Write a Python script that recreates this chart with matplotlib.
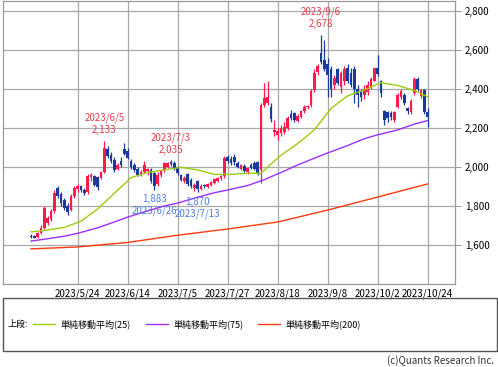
import numpy as np
import matplotlib
matplotlib.use("Agg")
import matplotlib.pyplot as plt
from matplotlib.lines import Line2D
from matplotlib.patches import Rectangle

plt.rcParams['font.family'] = ['Noto Sans CJK JP', 'DejaVu Sans']

# daily candles, 2023/5/1 .. 2023/10/24 (trading days only)
opens = [1648, 1645, 1640, 1662, 1685, 1712, 1735, 1775, 1890, 1860,
         1830, 1800, 1780, 1850, 1885, 1900, 1880, 1870, 1950, 1955,
         1950, 1945, 1974, 2090, 2060, 2035, 1990, 2030, 2090, 2080,
         2030, 2010, 1990, 1965, 1975, 1980, 1985, 1970, 1915, 1960,
         1985, 2000, 2025, 2020, 2000, 1960, 1930, 1965, 1935, 1890,
         1930, 1885, 1910, 1895, 1910, 1920, 1930, 1945, 1955, 2050,
         2040, 2050, 2020, 1990, 2005, 1975, 2010, 2020, 2025, 1985,
         2320, 2330, 2310, 2180, 2165, 2175, 2180, 2200, 2270, 2275,
         2235, 2255, 2285, 2305, 2320, 2395, 2485, 2585, 2550, 2530,
         2500, 2420, 2500, 2410, 2440, 2510, 2480, 2500, 2400, 2390,
         2370, 2385, 2410, 2440, 2510, 2440, 2285, 2280, 2275, 2240,
         2310, 2360, 2370, 2300, 2280, 2380, 2450, 2365, 2395, 2280]
highs = [1655, 1652, 1668, 1700, 1800, 1748, 1785, 1880, 1900, 1870,
         1840, 1815, 1860, 1900, 1915, 1910, 1890, 1965, 1970, 1960,
         1955, 1980, 2133, 2110, 2075, 2050, 2020, 2050, 2125, 2095,
         2040, 2020, 2000, 1985, 2030, 1995, 1995, 1975, 1975, 1985,
         2025, 2025, 2035, 2030, 2005, 1965, 1955, 1970, 1945, 1920,
         1935, 1915, 1915, 1920, 1930, 1945, 1950, 1960, 2055, 2060,
         2055, 2065, 2030, 2015, 2015, 2000, 2020, 2030, 2030, 2330,
         2430, 2440, 2330, 2240, 2200, 2215, 2230, 2260, 2290, 2280,
         2270, 2290, 2320, 2320, 2400, 2500, 2530, 2678, 2650, 2560,
         2520, 2470, 2510, 2490, 2520, 2530, 2510, 2520, 2420, 2400,
         2420, 2440, 2460, 2510, 2575, 2445, 2290, 2285, 2285, 2285,
         2380, 2400, 2380, 2310, 2350, 2460, 2460, 2400, 2400, 2300]
lows = [1636, 1634, 1636, 1655, 1680, 1700, 1725, 1765, 1840, 1800,
        1780, 1755, 1775, 1840, 1870, 1870, 1855, 1860, 1930, 1900,
        1880, 1940, 1970, 2045, 2020, 1975, 1985, 2000, 2060, 2040,
        1990, 1975, 1955, 1955, 1970, 1960, 1920, 1883, 1905, 1950,
        1975, 1995, 2005, 1985, 1960, 1930, 1920, 1905, 1890, 1875,
        1870, 1880, 1890, 1890, 1905, 1915, 1925, 1935, 1945, 2020,
        2010, 2010, 1995, 1985, 1975, 1965, 1990, 1985, 1960, 1920,
        2305, 2320, 2230, 2160, 2140, 2160, 2170, 2190, 2240, 2230,
        2230, 2250, 2275, 2295, 2310, 2385, 2470, 2530, 2490, 2360,
        2360, 2400, 2420, 2380, 2420, 2430, 2410, 2330, 2310, 2340,
        2350, 2370, 2400, 2440, 2465, 2360, 2215, 2230, 2240, 2230,
        2300, 2350, 2320, 2270, 2270, 2370, 2390, 2355, 2270, 2205]
closes = [1640, 1638, 1662, 1685, 1792, 1738, 1775, 1868, 1850, 1815,
          1790, 1770, 1850, 1890, 1905, 1880, 1865, 1955, 1960, 1910,
          1895, 1974, 2097, 2055, 2030, 1985, 2010, 2010, 2065, 2045,
          2000, 1985, 1960, 1975, 2010, 1990, 1930, 1905, 1960, 1980,
          2020, 2020, 2015, 1995, 1970, 1935, 1945, 1915, 1900, 1910,
          1885, 1905, 1900, 1915, 1925, 1940, 1945, 1955, 2045, 2030,
          2020, 2025, 2000, 2010, 1980, 1995, 1995, 1990, 1970, 2320,
          2355, 2360, 2245, 2190, 2185, 2200, 2205, 2250, 2250, 2240,
          2260, 2285, 2310, 2315, 2390, 2480, 2520, 2540, 2500, 2470,
          2400, 2455, 2430, 2480, 2500, 2440, 2420, 2400, 2370, 2360,
          2400, 2420, 2450, 2505, 2475, 2380, 2240, 2250, 2255, 2280,
          2370, 2390, 2330, 2285, 2340, 2450, 2400, 2395, 2280, 2255]

# moving averages (candle index, value)
ma25_idx = [0, 5, 10, 15, 20, 25, 30, 35, 40, 45, 50, 55, 60, 65, 69,
            72, 75, 80, 85, 90, 95, 100, 105, 110, 115, 119]
ma25_val = [1667, 1677, 1690, 1722, 1785, 1865, 1945, 1972, 1985, 1998,
            1985, 1962, 1962, 1968, 1968, 2015, 2060, 2120, 2190, 2300,
            2365, 2395, 2432, 2418, 2392, 2360]
ma75_idx = [0, 5, 10, 14, 20, 25, 29, 35, 40, 44, 50, 55, 59, 65, 70,
            75, 80, 85, 89, 95, 100, 104, 110, 115, 119]
ma75_val = [1620, 1632, 1645, 1660, 1688, 1718, 1743, 1775, 1800, 1815,
            1845, 1868, 1882, 1905, 1935, 1972, 2010, 2045, 2072, 2110,
            2145, 2165, 2190, 2220, 2238]
ma200_idx = [0, 14, 29, 44, 59, 74, 89, 104, 119]
ma200_val = [1580, 1590, 1613, 1650, 1682, 1718, 1779, 1846, 1913]

tick_idx = [14, 29, 44, 59, 74, 89, 104, 119]
tick_labels = ['2023/5/24', '2023/6/14', '2023/7/5', '2023/7/27',
               '2023/8/18', '2023/9/8', '2023/10/2', '2023/10/24']

# (index, date label, price, is_high)
marks = [(22, '2023/6/5', 2133, True), (42, '2023/7/3', 2035, True),
         (87, '2023/9/6', 2678, True), (37, '2023/6/26', 1883, False),
         (50, '2023/7/13', 1870, False)]

UP = '#FF1A4B'
DOWN = '#1A3A9C'

W, H = 498, 367
fig = plt.figure(figsize=(W / 100, H / 100), dpi=100)
ax = fig.add_axes([3 / W, 1 - 284 / H, 452 / W, 283 / H])

o = np.array(opens)
h = np.array(highs)
l = np.array(lows)
c = np.array(closes)
x = np.arange(len(c))
up = c >= o
cols = np.where(up, UP, DOWN)

ax.vlines(x, l, h, colors=cols, linewidth=0.9, zorder=3)
body = np.maximum(np.abs(c - o), 4)
ax.bar(x, body, bottom=np.minimum(o, c), width=0.82, color=cols,
       linewidth=0, zorder=3)

ax.plot(ma200_idx, ma200_val, color='#FF3A10', lw=1.0, zorder=4)
ax.plot(ma75_idx, ma75_val, color='#9B30FF', lw=1.0, zorder=4)
ax.plot(ma25_idx, ma25_val, color='#9ACD10', lw=1.0, zorder=4)

for i, d, v, hi in marks:
    txt = f"{d}\n{v:,}" if hi else f"{v:,}\n{d}"
    ax.annotate(txt, xy=(i, v), xytext=(0, 4 if hi else -3),
                textcoords='offset points', ha='center',
                va='bottom' if hi else 'top', fontsize=7, linespacing=1.25,
                color='#E0404A' if hi else '#4D7FE8', zorder=5)

ax.set_xlim(-8.4, 127.2)
ax.set_ylim(1400, 2851)
ax.set_yticks([1600, 1800, 2000, 2200, 2400, 2600, 2800])
ax.set_yticklabels([f"{v:,}" for v in ax.get_yticks()])
ax.set_xticks(tick_idx)
ax.set_xticklabels(tick_labels)
ax.yaxis.tick_right()
ax.tick_params(axis='y', length=4, width=0.6, color='#888888', labelsize=7, pad=3)
ax.tick_params(axis='x', length=0, labelsize=7, pad=3)
ax.grid(True, color='#A8A8A8', lw=0.9, zorder=0)
ax.set_axisbelow(True)
for s in ax.spines.values():
    s.set_color('#999999')
    s.set_linewidth(0.9)

# legend panel
fig.patches.append(Rectangle((3 / W, 1 - 351 / H), 494 / W, 53 / H,
                             transform=fig.transFigure, fill=False,
                             edgecolor='#555555', lw=1.0))
ly = 1 - 324 / H
fig.text(7 / W, ly, '上段:', fontsize=6.5, va='center')
legend_items = [('#9ACD10', '単純移動平均(25)', 33),
                ('#9B30FF', '単純移動平均(75)', 146),
                ('#FF3A10', '単純移動平均(200)', 258)]
for col, lab, px in legend_items:
    fig.add_artist(Line2D([px / W, (px + 22) / W], [ly, ly], color=col,
                          lw=1.0, transform=fig.transFigure))
    fig.text((px + 27) / W, ly, lab, fontsize=6.5, va='center')

fig.text(494 / W, 1 - 361 / H, '(c)Quants Research Inc.', fontsize=7,
         ha='right', va='center', color='#333333')

fig.savefig('out.png', dpi=100)
